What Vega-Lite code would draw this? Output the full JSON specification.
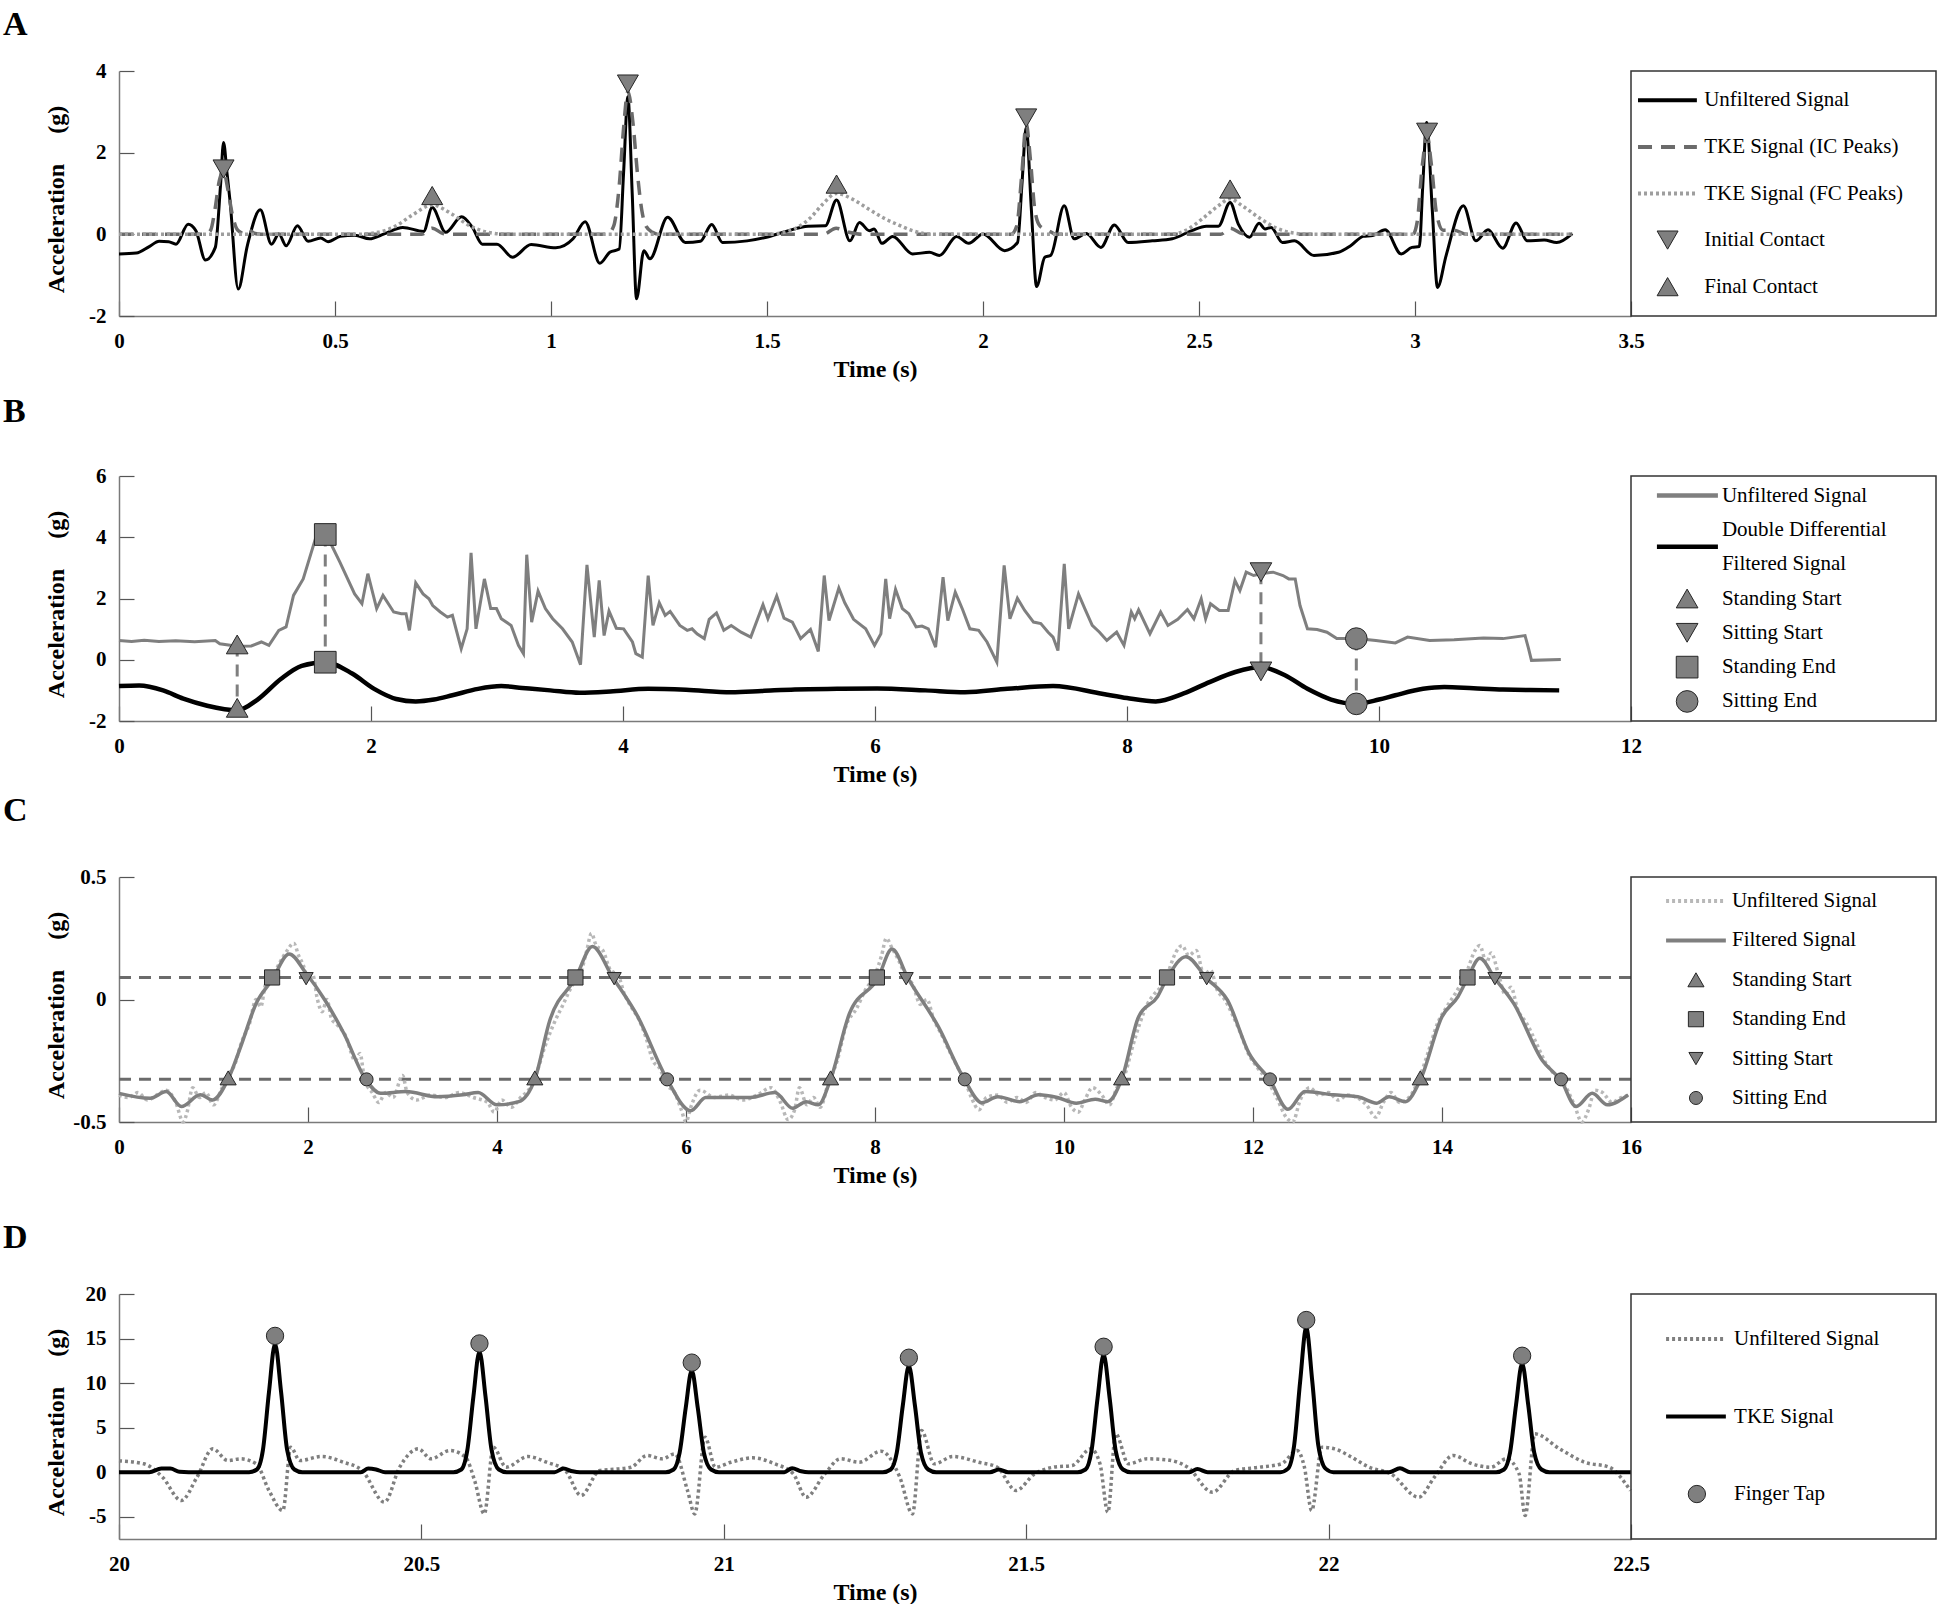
{
"$schema": "https://vega.github.io/schema/vega-lite/v6.json",
"padding": {"left": 3, "top": 8, "right": 0, "bottom": 0},
"background": "white",
"config": {
  "font": "Liberation Serif",
  "view": {"stroke": null},
  "axis": {"grid": false, "domainColor": "#7a7a7a", "domainWidth": 1.5, "tickColor": "#555555", "tickWidth": 1.2, "tickSize": -15, "labelFont": "Liberation Serif", "labelFontWeight": "bold", "labelFontSize": 21, "labelColor": "#000000", "titleFont": "Liberation Serif", "titleFontWeight": "bold", "titleFontSize": 24, "titleColor": "#000000", "labelFlush": false, "labelOverlap": false},
  "axisX": {"labelPadding": 29, "titlePadding": 6},
  "axisY": {"labelPadding": 28, "titleX": -56, "titleY": 128, "titleAlign": "center", "titleBaseline": "alphabetic", "titleAngle": 270},
  "title": {"font": "Liberation Serif", "fontWeight": "bold", "fontSize": 34, "color": "#000000", "anchor": "start", "frame": "group", "baseline": "bottom"}
},
"datasets": {
"A_unf": [{"t":0.0,"v":-0.48},{"t":0.04,"v":-0.46},{"t":0.07,"v":-0.3},{"t":0.093,"v":-0.17},{"t":0.115,"v":-0.18},{"t":0.132,"v":-0.24},{"t":0.16,"v":0.25},{"t":0.178,"v":0.09},{"t":0.2,"v":-0.63},{"t":0.223,"v":-0.32},{"t":0.235,"v":1.2},{"t":0.242,"v":2.25},{"t":0.25,"v":1.5},{"t":0.257,"v":0.82},{"t":0.276,"v":-1.34},{"t":0.297,"v":-0.28},{"t":0.327,"v":0.6},{"t":0.353,"v":-0.24},{"t":0.37,"v":0.01},{"t":0.387,"v":-0.28},{"t":0.413,"v":0.21},{"t":0.438,"v":-0.17},{"t":0.467,"v":-0.09},{"t":0.484,"v":-0.18},{"t":0.512,"v":-0.05},{"t":0.546,"v":-0.02},{"t":0.58,"v":-0.11},{"t":0.614,"v":0.01},{"t":0.657,"v":0.17},{"t":0.705,"v":0.07},{"t":0.725,"v":0.66},{"t":0.756,"v":0.05},{"t":0.793,"v":0.43},{"t":0.818,"v":0.17},{"t":0.841,"v":-0.24},{"t":0.875,"v":-0.24},{"t":0.911,"v":-0.56},{"t":0.954,"v":-0.25},{"t":1.011,"v":-0.33},{"t":1.051,"v":-0.11},{"t":1.079,"v":0.31},{"t":1.113,"v":-0.71},{"t":1.136,"v":-0.44},{"t":1.158,"v":-0.36},{"t":1.168,"v":1.5},{"t":1.178,"v":3.37},{"t":1.188,"v":1.0},{"t":1.198,"v":-1.58},{"t":1.215,"v":-0.4},{"t":1.229,"v":-0.6},{"t":1.27,"v":0.42},{"t":1.311,"v":-0.2},{"t":1.346,"v":-0.17},{"t":1.372,"v":0.24},{"t":1.397,"v":-0.2},{"t":1.454,"v":-0.16},{"t":1.499,"v":-0.07},{"t":1.544,"v":0.07},{"t":1.595,"v":0.2},{"t":1.635,"v":0.21},{"t":1.661,"v":0.84},{"t":1.692,"v":-0.16},{"t":1.714,"v":0.29},{"t":1.737,"v":0.09},{"t":1.748,"v":0.13},{"t":1.766,"v":-0.22},{"t":1.791,"v":-0.05},{"t":1.837,"v":-0.48},{"t":1.876,"v":-0.44},{"t":1.899,"v":-0.52},{"t":1.939,"v":-0.05},{"t":1.967,"v":-0.22},{"t":2.0,"v":0.01},{"t":2.05,"v":-0.4},{"t":2.08,"v":-0.2},{"t":2.09,"v":1.2},{"t":2.1,"v":2.62},{"t":2.112,"v":0.6},{"t":2.124,"v":-1.28},{"t":2.143,"v":-0.56},{"t":2.157,"v":-0.51},{"t":2.188,"v":0.7},{"t":2.211,"v":-0.11},{"t":2.239,"v":0.02},{"t":2.273,"v":-0.32},{"t":2.304,"v":0.23},{"t":2.336,"v":-0.2},{"t":2.392,"v":-0.16},{"t":2.438,"v":-0.11},{"t":2.483,"v":0.09},{"t":2.517,"v":0.2},{"t":2.545,"v":0.2},{"t":2.572,"v":0.78},{"t":2.591,"v":0.25},{"t":2.617,"v":-0.07},{"t":2.639,"v":0.27},{"t":2.653,"v":0.13},{"t":2.667,"v":0.17},{"t":2.693,"v":-0.2},{"t":2.721,"v":-0.16},{"t":2.766,"v":-0.52},{"t":2.823,"v":-0.44},{"t":2.851,"v":-0.28},{"t":2.88,"v":-0.05},{"t":2.902,"v":-0.03},{"t":2.931,"v":0.11},{"t":2.968,"v":-0.48},{"t":2.993,"v":-0.32},{"t":3.01,"v":-0.3},{"t":3.018,"v":1.2},{"t":3.027,"v":2.74},{"t":3.04,"v":0.6},{"t":3.052,"v":-1.3},{"t":3.072,"v":-0.52},{"t":3.112,"v":0.7},{"t":3.141,"v":-0.16},{"t":3.169,"v":0.11},{"t":3.203,"v":-0.34},{"t":3.234,"v":0.28},{"t":3.26,"v":-0.16},{"t":3.299,"v":-0.14},{"t":3.328,"v":-0.2},{"t":3.364,"v":0.02}],
"A_ic": [{"t":0,"v":0},{"t":0.2,"v":0},{"t":0.212,"v":0.1},{"t":0.222,"v":0.6},{"t":0.232,"v":1.3},{"t":0.242,"v":1.55},{"t":0.252,"v":1.1},{"t":0.262,"v":0.5},{"t":0.275,"v":0.1},{"t":0.29,"v":0.02},{"t":0.3,"v":0.1},{"t":0.315,"v":0.02},{"t":0.33,"v":0},{"t":0.7,"v":0},{"t":0.725,"v":0.15},{"t":0.75,"v":0.02},{"t":0.77,"v":0},{"t":1.13,"v":0},{"t":1.145,"v":0.2},{"t":1.158,"v":1.2},{"t":1.168,"v":2.6},{"t":1.178,"v":3.5},{"t":1.19,"v":2.7},{"t":1.2,"v":1.5},{"t":1.21,"v":0.6},{"t":1.22,"v":0.2},{"t":1.235,"v":0.05},{"t":1.25,"v":0},{"t":1.63,"v":0},{"t":1.66,"v":0.15},{"t":1.69,"v":0.05},{"t":1.72,"v":0},{"t":2.065,"v":0},{"t":2.078,"v":0.2},{"t":2.09,"v":1.5},{"t":2.1,"v":2.7},{"t":2.11,"v":1.8},{"t":2.12,"v":0.6},{"t":2.132,"v":0.2},{"t":2.15,"v":0.1},{"t":2.17,"v":0},{"t":2.55,"v":0},{"t":2.572,"v":0.15},{"t":2.6,"v":0.02},{"t":2.62,"v":0},{"t":2.995,"v":0},{"t":3.005,"v":0.3},{"t":3.017,"v":1.7},{"t":3.028,"v":2.4},{"t":3.038,"v":1.7},{"t":3.05,"v":0.5},{"t":3.065,"v":0.1},{"t":3.09,"v":0.1},{"t":3.12,"v":0},{"t":3.364,"v":0}],
"A_fc": [{"t":0,"v":0},{"t":0.55,"v":0},{"t":0.6,"v":0.05},{"t":0.64,"v":0.2},{"t":0.68,"v":0.48},{"t":0.725,"v":0.72},{"t":0.77,"v":0.5},{"t":0.81,"v":0.22},{"t":0.85,"v":0.06},{"t":0.9,"v":0},{"t":1.5,"v":0},{"t":1.55,"v":0.08},{"t":1.6,"v":0.4},{"t":1.63,"v":0.75},{"t":1.66,"v":1.0},{"t":1.7,"v":0.85},{"t":1.735,"v":0.62},{"t":1.77,"v":0.4},{"t":1.8,"v":0.25},{"t":1.84,"v":0.08},{"t":1.88,"v":0},{"t":2.43,"v":0},{"t":2.47,"v":0.1},{"t":2.51,"v":0.4},{"t":2.545,"v":0.7},{"t":2.572,"v":0.87},{"t":2.6,"v":0.7},{"t":2.64,"v":0.4},{"t":2.68,"v":0.15},{"t":2.72,"v":0.03},{"t":2.76,"v":0},{"t":3.364,"v":0}],
"A_mk": [{"t":0.242,"v":1.6,"e":"Initial Contact"},{"t":1.178,"v":3.68,"e":"Initial Contact"},{"t":2.1,"v":2.85,"e":"Initial Contact"},{"t":3.028,"v":2.5,"e":"Initial Contact"},{"t":0.725,"v":0.95,"e":"Final Contact"},{"t":1.661,"v":1.23,"e":"Final Contact"},{"t":2.572,"v":1.11,"e":"Final Contact"}],
"legA": [{"label":"Unfiltered Signal"},{"label":"TKE Signal (IC Peaks)"},{"label":"TKE Signal (FC Peaks)"},{"label":"Initial Contact"},{"label":"Final Contact"}],
"B_unf": [{"t":0.0,"v":0.63},{"t":0.1,"v":0.6},{"t":0.2,"v":0.64},{"t":0.317,"v":0.6},{"t":0.45,"v":0.62},{"t":0.6,"v":0.59},{"t":0.764,"v":0.63},{"t":0.8,"v":0.52},{"t":0.938,"v":0.44},{"t":1.05,"v":0.45},{"t":1.13,"v":0.58},{"t":1.19,"v":0.47},{"t":1.268,"v":0.96},{"t":1.326,"v":1.07},{"t":1.385,"v":2.1},{"t":1.462,"v":2.64},{"t":1.559,"v":3.95},{"t":1.598,"v":4.11},{"t":1.656,"v":4.0},{"t":1.753,"v":3.19},{"t":1.87,"v":2.15},{"t":1.928,"v":1.83},{"t":1.975,"v":2.81},{"t":2.045,"v":1.67},{"t":2.095,"v":2.1},{"t":2.18,"v":1.56},{"t":2.24,"v":1.5},{"t":2.278,"v":1.5},{"t":2.305,"v":0.96},{"t":2.355,"v":2.51},{"t":2.413,"v":2.15},{"t":2.46,"v":1.99},{"t":2.49,"v":1.77},{"t":2.55,"v":1.56},{"t":2.607,"v":1.39},{"t":2.646,"v":1.45},{"t":2.716,"v":0.36},{"t":2.763,"v":1.01},{"t":2.794,"v":3.49},{"t":2.833,"v":1.01},{"t":2.9,"v":2.64},{"t":2.95,"v":1.67},{"t":2.996,"v":1.67},{"t":3.034,"v":1.34},{"t":3.112,"v":1.12},{"t":3.17,"v":0.47},{"t":3.21,"v":0.2},{"t":3.236,"v":3.43},{"t":3.275,"v":1.23},{"t":3.326,"v":2.24},{"t":3.384,"v":1.67},{"t":3.442,"v":1.34},{"t":3.52,"v":1.01},{"t":3.597,"v":0.58},{"t":3.663,"v":-0.16},{"t":3.714,"v":3.1},{"t":3.772,"v":0.74},{"t":3.811,"v":2.59},{"t":3.85,"v":0.79},{"t":3.889,"v":1.59},{"t":3.947,"v":1.03},{"t":4.005,"v":1.01},{"t":4.075,"v":0.58},{"t":4.102,"v":0.2},{"t":4.153,"v":0.09},{"t":4.2,"v":2.75},{"t":4.238,"v":1.12},{"t":4.288,"v":1.86},{"t":4.335,"v":1.45},{"t":4.374,"v":1.58},{"t":4.451,"v":1.12},{"t":4.51,"v":0.96},{"t":4.548,"v":1.01},{"t":4.587,"v":0.85},{"t":4.645,"v":0.69},{"t":4.684,"v":1.32},{"t":4.742,"v":1.53},{"t":4.8,"v":0.96},{"t":4.859,"v":1.12},{"t":4.937,"v":0.9},{"t":5.014,"v":0.74},{"t":5.111,"v":1.8},{"t":5.15,"v":1.34},{"t":5.22,"v":2.08},{"t":5.278,"v":1.36},{"t":5.344,"v":1.23},{"t":5.41,"v":0.69},{"t":5.488,"v":0.99},{"t":5.55,"v":0.27},{"t":5.597,"v":2.75},{"t":5.635,"v":1.28},{"t":5.713,"v":2.34},{"t":5.76,"v":1.86},{"t":5.83,"v":1.32},{"t":5.926,"v":1.01},{"t":5.996,"v":0.47},{"t":6.047,"v":0.85},{"t":6.085,"v":2.64},{"t":6.116,"v":1.34},{"t":6.163,"v":2.3},{"t":6.217,"v":1.67},{"t":6.268,"v":1.5},{"t":6.326,"v":1.07},{"t":6.373,"v":1.1},{"t":6.423,"v":1.01},{"t":6.481,"v":0.41},{"t":6.54,"v":2.7},{"t":6.578,"v":1.28},{"t":6.637,"v":2.21},{"t":6.695,"v":1.64},{"t":6.753,"v":1.01},{"t":6.823,"v":0.96},{"t":6.889,"v":0.58},{"t":6.967,"v":-0.08},{"t":7.025,"v":3.08},{"t":7.071,"v":1.34},{"t":7.13,"v":2.01},{"t":7.188,"v":1.61},{"t":7.258,"v":1.23},{"t":7.316,"v":1.18},{"t":7.374,"v":0.9},{"t":7.413,"v":0.74},{"t":7.452,"v":0.3},{"t":7.502,"v":3.13},{"t":7.537,"v":1.01},{"t":7.615,"v":2.15},{"t":7.665,"v":1.67},{"t":7.724,"v":1.12},{"t":7.782,"v":0.9},{"t":7.84,"v":0.63},{"t":7.918,"v":0.9},{"t":7.976,"v":0.47},{"t":8.034,"v":1.56},{"t":8.061,"v":1.34},{"t":8.092,"v":1.63},{"t":8.182,"v":0.85},{"t":8.267,"v":1.56},{"t":8.325,"v":1.12},{"t":8.403,"v":1.32},{"t":8.48,"v":1.64},{"t":8.531,"v":1.34},{"t":8.589,"v":1.99},{"t":8.624,"v":1.34},{"t":8.663,"v":1.83},{"t":8.733,"v":1.61},{"t":8.803,"v":1.61},{"t":8.857,"v":2.59},{"t":8.896,"v":2.26},{"t":8.946,"v":2.86},{"t":9.005,"v":2.75},{"t":9.063,"v":2.81},{"t":9.16,"v":2.86},{"t":9.238,"v":2.75},{"t":9.284,"v":2.64},{"t":9.335,"v":2.64},{"t":9.373,"v":1.77},{"t":9.432,"v":1.01},{"t":9.509,"v":0.99},{"t":9.587,"v":0.9},{"t":9.665,"v":0.69},{"t":9.82,"v":0.69},{"t":9.975,"v":0.63},{"t":10.13,"v":0.55},{"t":10.227,"v":0.74},{"t":10.402,"v":0.63},{"t":10.596,"v":0.65},{"t":10.829,"v":0.71},{"t":10.984,"v":0.69},{"t":11.159,"v":0.79},{"t":11.186,"v":0.38},{"t":11.21,"v":-0.02},{"t":11.443,"v":0.01}],
"B_dd": [{"t":0,"v":-0.86},{"t":0.16,"v":-0.84},{"t":0.35,"v":-1.0},{"t":0.51,"v":-1.27},{"t":0.7,"v":-1.5},{"t":0.938,"v":-1.65},{"t":1.1,"v":-1.3},{"t":1.287,"v":-0.62},{"t":1.45,"v":-0.2},{"t":1.637,"v":-0.08},{"t":1.85,"v":-0.45},{"t":2.025,"v":-0.95},{"t":2.2,"v":-1.28},{"t":2.355,"v":-1.36},{"t":2.5,"v":-1.3},{"t":2.646,"v":-1.16},{"t":2.85,"v":-0.95},{"t":3.034,"v":-0.86},{"t":3.2,"v":-0.92},{"t":3.423,"v":-1.0},{"t":3.656,"v":-1.08},{"t":3.9,"v":-1.04},{"t":4.2,"v":-0.95},{"t":4.5,"v":-0.98},{"t":4.859,"v":-1.06},{"t":5.1,"v":-1.02},{"t":5.364,"v":-0.97},{"t":5.7,"v":-0.95},{"t":6.017,"v":-0.94},{"t":6.4,"v":-1.0},{"t":6.714,"v":-1.06},{"t":7.05,"v":-0.95},{"t":7.413,"v":-0.86},{"t":7.801,"v":-1.11},{"t":8.0,"v":-1.25},{"t":8.228,"v":-1.36},{"t":8.45,"v":-1.1},{"t":8.655,"v":-0.73},{"t":8.86,"v":-0.4},{"t":9.063,"v":-0.24},{"t":9.25,"v":-0.5},{"t":9.432,"v":-0.95},{"t":9.62,"v":-1.3},{"t":9.82,"v":-1.44},{"t":10.0,"v":-1.3},{"t":10.13,"v":-1.16},{"t":10.35,"v":-0.95},{"t":10.518,"v":-0.89},{"t":10.75,"v":-0.93},{"t":10.984,"v":-0.97},{"t":11.2,"v":-0.99},{"t":11.43,"v":-1.0}],
"B_conn": [{"t":0.938,"v":0.5,"v2":-1.57},{"t":1.637,"v":4.09,"v2":-0.08},{"t":9.063,"v":2.86,"v2":-0.38},{"t":9.82,"v":0.69,"v2":-1.44}],
"B_mk": [{"t":0.938,"v":0.5,"e":"Standing Start"},{"t":0.938,"v":-1.57,"e":"Standing Start"},{"t":1.637,"v":4.09,"e":"Standing End"},{"t":1.637,"v":-0.08,"e":"Standing End"},{"t":9.063,"v":2.86,"e":"Sitting Start"},{"t":9.063,"v":-0.38,"e":"Sitting Start"},{"t":9.82,"v":0.69,"e":"Sitting End"},{"t":9.82,"v":-1.44,"e":"Sitting End"}],
"legB": [{"label":"Unfiltered Signal"},{"label":"Double Differential"},{"label":"Filtered Signal"},{"label":"Standing Start"},{"label":"Sitting Start"},{"label":"Standing End"},{"label":"Sitting End"}],
"C_unf": [{"t":0,"v":-0.39},{"t":0.1,"v":-0.4},{"t":0.2,"v":-0.38},{"t":0.3,"v":-0.41},{"t":0.4,"v":-0.39},{"t":0.5,"v":-0.37},{"t":0.6,"v":-0.42},{"t":0.68,"v":-0.5},{"t":0.72,"v":-0.46},{"t":0.78,"v":-0.36},{"t":0.85,"v":-0.4},{"t":0.92,"v":-0.38},{"t":1.0,"v":-0.43},{"t":1.08,"v":-0.37},{"t":1.15,"v":-0.31},{"t":1.22,"v":-0.27},{"t":1.3,"v":-0.17},{"t":1.38,"v":-0.1},{"t":1.45,"v":0.0},{"t":1.5,"v":-0.03},{"t":1.55,"v":0.06},{"t":1.62,"v":0.09},{"t":1.7,"v":0.15},{"t":1.78,"v":0.2},{"t":1.85,"v":0.23},{"t":1.9,"v":0.18},{"t":1.95,"v":0.14},{"t":2.0,"v":0.08},{"t":2.05,"v":0.1},{"t":2.1,"v":0.0},{"t":2.15,"v":-0.05},{"t":2.2,"v":0.0},{"t":2.25,"v":-0.08},{"t":2.3,"v":-0.1},{"t":2.4,"v":-0.15},{"t":2.5,"v":-0.25},{"t":2.55,"v":-0.22},{"t":2.6,"v":-0.33},{"t":2.68,"v":-0.38},{"t":2.75,"v":-0.42},{"t":2.82,"v":-0.38},{"t":2.9,"v":-0.4},{"t":3.0,"v":-0.31},{"t":3.05,"v":-0.38},{"t":3.15,"v":-0.41},{"t":3.3,"v":-0.39},{"t":3.45,"v":-0.4},{"t":3.6,"v":-0.38},{"t":3.75,"v":-0.4},{"t":3.9,"v":-0.42},{"t":3.97,"v":-0.46},{"t":4.05,"v":-0.41},{"t":4.15,"v":-0.44},{"t":4.25,"v":-0.4},{"t":4.35,"v":-0.36},{"t":4.42,"v":-0.3},{"t":4.5,"v":-0.2},{"t":4.6,"v":-0.1},{"t":4.7,"v":-0.02},{"t":4.8,"v":0.06},{"t":4.88,"v":0.1},{"t":4.95,"v":0.2},{"t":5.0,"v":0.27},{"t":5.05,"v":0.22},{"t":5.12,"v":0.2},{"t":5.2,"v":0.12},{"t":5.28,"v":0.1},{"t":5.35,"v":0.02},{"t":5.42,"v":-0.03},{"t":5.5,"v":-0.08},{"t":5.58,"v":-0.16},{"t":5.65,"v":-0.25},{"t":5.72,"v":-0.28},{"t":5.8,"v":-0.35},{"t":5.88,"v":-0.38},{"t":5.95,"v":-0.45},{"t":6.0,"v":-0.5},{"t":6.05,"v":-0.44},{"t":6.15,"v":-0.37},{"t":6.3,"v":-0.4},{"t":6.45,"v":-0.39},{"t":6.6,"v":-0.41},{"t":6.75,"v":-0.39},{"t":6.9,"v":-0.36},{"t":7.0,"v":-0.42},{"t":7.08,"v":-0.49},{"t":7.15,"v":-0.45},{"t":7.2,"v":-0.36},{"t":7.28,"v":-0.43},{"t":7.35,"v":-0.4},{"t":7.42,"v":-0.44},{"t":7.5,"v":-0.35},{"t":7.6,"v":-0.25},{"t":7.7,"v":-0.1},{"t":7.8,"v":-0.04},{"t":7.9,"v":0.04},{"t":8.0,"v":0.1},{"t":8.07,"v":0.18},{"t":8.12,"v":0.25},{"t":8.18,"v":0.21},{"t":8.25,"v":0.16},{"t":8.32,"v":0.1},{"t":8.4,"v":0.06},{"t":8.48,"v":-0.02},{"t":8.55,"v":0.0},{"t":8.62,"v":-0.08},{"t":8.7,"v":-0.14},{"t":8.8,"v":-0.22},{"t":8.88,"v":-0.28},{"t":8.95,"v":-0.33},{"t":9.02,"v":-0.4},{"t":9.1,"v":-0.45},{"t":9.18,"v":-0.4},{"t":9.3,"v":-0.39},{"t":9.4,"v":-0.42},{"t":9.5,"v":-0.4},{"t":9.6,"v":-0.42},{"t":9.7,"v":-0.38},{"t":9.8,"v":-0.4},{"t":9.9,"v":-0.41},{"t":10.0,"v":-0.38},{"t":10.08,"v":-0.44},{"t":10.15,"v":-0.46},{"t":10.22,"v":-0.41},{"t":10.3,"v":-0.36},{"t":10.4,"v":-0.39},{"t":10.48,"v":-0.43},{"t":10.56,"v":-0.36},{"t":10.65,"v":-0.3},{"t":10.72,"v":-0.2},{"t":10.8,"v":-0.1},{"t":10.88,"v":-0.02},{"t":10.95,"v":0.02},{"t":11.02,"v":0.05},{"t":11.1,"v":0.11},{"t":11.18,"v":0.19},{"t":11.25,"v":0.22},{"t":11.32,"v":0.18},{"t":11.4,"v":0.2},{"t":11.48,"v":0.1},{"t":11.55,"v":0.12},{"t":11.62,"v":0.04},{"t":11.7,"v":0.0},{"t":11.78,"v":-0.06},{"t":11.86,"v":-0.13},{"t":11.95,"v":-0.22},{"t":12.05,"v":-0.28},{"t":12.15,"v":-0.33},{"t":12.25,"v":-0.4},{"t":12.35,"v":-0.48},{"t":12.42,"v":-0.5},{"t":12.5,"v":-0.41},{"t":12.6,"v":-0.36},{"t":12.7,"v":-0.39},{"t":12.8,"v":-0.38},{"t":12.9,"v":-0.41},{"t":13.0,"v":-0.39},{"t":13.1,"v":-0.4},{"t":13.2,"v":-0.43},{"t":13.3,"v":-0.48},{"t":13.38,"v":-0.42},{"t":13.46,"v":-0.38},{"t":13.55,"v":-0.42},{"t":13.65,"v":-0.4},{"t":13.75,"v":-0.33},{"t":13.85,"v":-0.22},{"t":13.95,"v":-0.1},{"t":14.05,"v":-0.03},{"t":14.15,"v":0.03},{"t":14.25,"v":0.1},{"t":14.35,"v":0.2},{"t":14.4,"v":0.22},{"t":14.47,"v":0.15},{"t":14.52,"v":0.19},{"t":14.6,"v":0.1},{"t":14.67,"v":0.02},{"t":14.73,"v":0.05},{"t":14.8,"v":-0.04},{"t":14.9,"v":-0.1},{"t":15.0,"v":-0.18},{"t":15.1,"v":-0.26},{"t":15.2,"v":-0.31},{"t":15.3,"v":-0.35},{"t":15.4,"v":-0.43},{"t":15.48,"v":-0.5},{"t":15.55,"v":-0.45},{"t":15.62,"v":-0.37},{"t":15.7,"v":-0.38},{"t":15.8,"v":-0.42},{"t":15.9,"v":-0.4},{"t":16.0,"v":-0.39}],
"C_filt": [{"t":0,"v":-0.383},{"t":0.33,"v":-0.403},{"t":0.5,"v":-0.376},{"t":0.66,"v":-0.437},{"t":0.86,"v":-0.389},{"t":0.99,"v":-0.41},{"t":1.155,"v":-0.325},{"t":1.29,"v":-0.19},{"t":1.45,"v":-0.017},{"t":1.62,"v":0.08},{"t":1.8,"v":0.186},{"t":1.98,"v":0.107},{"t":2.18,"v":-0.003},{"t":2.38,"v":-0.139},{"t":2.61,"v":-0.326},{"t":2.77,"v":-0.383},{"t":3.04,"v":-0.376},{"t":3.37,"v":-0.397},{"t":3.64,"v":-0.389},{"t":3.8,"v":-0.38},{"t":4.0,"v":-0.43},{"t":4.23,"v":-0.417},{"t":4.4,"v":-0.326},{"t":4.56,"v":-0.084},{"t":4.83,"v":0.086},{"t":5.01,"v":0.216},{"t":5.22,"v":0.093},{"t":5.49,"v":-0.07},{"t":5.8,"v":-0.326},{"t":6.05,"v":-0.454},{"t":6.21,"v":-0.4},{"t":6.68,"v":-0.4},{"t":6.94,"v":-0.38},{"t":7.13,"v":-0.444},{"t":7.27,"v":-0.417},{"t":7.4,"v":-0.43},{"t":7.53,"v":-0.326},{"t":7.73,"v":-0.057},{"t":8.03,"v":0.086},{"t":8.18,"v":0.206},{"t":8.35,"v":0.086},{"t":8.67,"v":-0.111},{"t":8.95,"v":-0.329},{"t":9.13,"v":-0.421},{"t":9.3,"v":-0.397},{"t":9.53,"v":-0.417},{"t":9.73,"v":-0.389},{"t":9.93,"v":-0.4},{"t":10.13,"v":-0.423},{"t":10.33,"v":-0.407},{"t":10.46,"v":-0.417},{"t":10.61,"v":-0.326},{"t":10.79,"v":-0.07},{"t":10.99,"v":0.012},{"t":11.09,"v":0.086},{"t":11.29,"v":0.175},{"t":11.51,"v":0.086},{"t":11.73,"v":-0.003},{"t":11.96,"v":-0.221},{"t":12.18,"v":-0.329},{"t":12.37,"v":-0.448},{"t":12.55,"v":-0.376},{"t":12.85,"v":-0.389},{"t":13.11,"v":-0.397},{"t":13.31,"v":-0.423},{"t":13.44,"v":-0.397},{"t":13.61,"v":-0.417},{"t":13.77,"v":-0.329},{"t":14.0,"v":-0.07},{"t":14.17,"v":0.012},{"t":14.27,"v":0.086},{"t":14.4,"v":0.168},{"t":14.56,"v":0.086},{"t":14.76,"v":-0.017},{"t":15.06,"v":-0.248},{"t":15.26,"v":-0.331},{"t":15.42,"v":-0.437},{"t":15.59,"v":-0.383},{"t":15.75,"v":-0.43},{"t":15.97,"v":-0.389}],
"C_thr": [{"v":0.09},{"v":-0.326}],
"C_mk": [{"t":1.155,"v":-0.32,"e":"Standing Start"},{"t":4.4,"v":-0.32,"e":"Standing Start"},{"t":7.53,"v":-0.32,"e":"Standing Start"},{"t":10.61,"v":-0.32,"e":"Standing Start"},{"t":13.77,"v":-0.32,"e":"Standing Start"},{"t":1.62,"v":0.09,"e":"Standing End"},{"t":4.83,"v":0.09,"e":"Standing End"},{"t":8.02,"v":0.09,"e":"Standing End"},{"t":11.09,"v":0.09,"e":"Standing End"},{"t":14.27,"v":0.09,"e":"Standing End"},{"t":1.98,"v":0.085,"e":"Sitting Start"},{"t":5.24,"v":0.085,"e":"Sitting Start"},{"t":8.33,"v":0.085,"e":"Sitting Start"},{"t":11.51,"v":0.085,"e":"Sitting Start"},{"t":14.56,"v":0.085,"e":"Sitting Start"},{"t":2.62,"v":-0.326,"e":"Sitting End"},{"t":5.8,"v":-0.326,"e":"Sitting End"},{"t":8.95,"v":-0.326,"e":"Sitting End"},{"t":12.18,"v":-0.326,"e":"Sitting End"},{"t":15.26,"v":-0.326,"e":"Sitting End"}],
"legC": [{"label":"Unfiltered Signal"},{"label":"Filtered Signal"},{"label":"Standing Start"},{"label":"Standing End"},{"label":"Sitting Start"},{"label":"Sitting End"}],
"D_unf": [{"t":20.0,"v":1.27},{"t":20.041,"v":0.94},{"t":20.072,"v":-0.56},{"t":20.103,"v":-3.18},{"t":20.129,"v":-0.56},{"t":20.155,"v":2.62},{"t":20.18,"v":1.31},{"t":20.201,"v":1.5},{"t":20.227,"v":0.94},{"t":20.248,"v":-2.06},{"t":20.271,"v":-4.3},{"t":20.284,"v":2.8},{"t":20.299,"v":1.31},{"t":20.335,"v":1.76},{"t":20.371,"v":1.12},{"t":20.402,"v":0.19},{"t":20.439,"v":-3.37},{"t":20.464,"v":0.56},{"t":20.495,"v":2.62},{"t":20.516,"v":1.5},{"t":20.547,"v":2.43},{"t":20.573,"v":1.68},{"t":20.588,"v":-0.94},{"t":20.604,"v":-4.68},{"t":20.619,"v":2.8},{"t":20.64,"v":0.56},{"t":20.676,"v":1.76},{"t":20.707,"v":1.12},{"t":20.738,"v":0.19},{"t":20.764,"v":-2.62},{"t":20.795,"v":0.19},{"t":20.826,"v":0.37},{"t":20.847,"v":0.56},{"t":20.873,"v":1.87},{"t":20.898,"v":1.5},{"t":20.919,"v":2.06},{"t":20.94,"v":-2.06},{"t":20.952,"v":-4.68},{"t":20.969,"v":3.93},{"t":20.986,"v":0.56},{"t":21.012,"v":1.12},{"t":21.048,"v":1.61},{"t":21.084,"v":0.94},{"t":21.115,"v":-0.19},{"t":21.136,"v":-2.81},{"t":21.167,"v":-0.19},{"t":21.193,"v":1.5},{"t":21.224,"v":1.12},{"t":21.26,"v":2.36},{"t":21.291,"v":-0.56},{"t":21.312,"v":-4.68},{"t":21.327,"v":4.68},{"t":21.348,"v":0.94},{"t":21.379,"v":1.76},{"t":21.39,"v":1.68},{"t":21.421,"v":1.12},{"t":21.452,"v":0.56},{"t":21.483,"v":-2.06},{"t":21.514,"v":-0.19},{"t":21.545,"v":0.56},{"t":21.576,"v":0.75},{"t":21.607,"v":2.62},{"t":21.622,"v":0.94},{"t":21.635,"v":-4.5},{"t":21.648,"v":4.3},{"t":21.669,"v":0.94},{"t":21.7,"v":1.5},{"t":21.731,"v":1.4},{"t":21.767,"v":0.56},{"t":21.808,"v":-2.25},{"t":21.845,"v":0.19},{"t":21.886,"v":0.56},{"t":21.922,"v":0.94},{"t":21.948,"v":2.43},{"t":21.96,"v":0.56},{"t":21.972,"v":-4.3},{"t":21.989,"v":2.8},{"t":22.01,"v":2.62},{"t":22.036,"v":1.76},{"t":22.067,"v":0.56},{"t":22.103,"v":-0.19},{"t":22.149,"v":-2.81},{"t":22.175,"v":-0.56},{"t":22.206,"v":1.87},{"t":22.237,"v":0.94},{"t":22.268,"v":0.56},{"t":22.294,"v":1.5},{"t":22.315,"v":-0.19},{"t":22.325,"v":-4.87},{"t":22.341,"v":4.3},{"t":22.382,"v":2.62},{"t":22.423,"v":1.12},{"t":22.464,"v":0.56},{"t":22.499,"v":-2.06}],
"D_tke": [{"t":20.0,"v":0},{"t":20.05,"v":0},{"t":20.07,"v":0.4},{"t":20.085,"v":0.4},{"t":20.1,"v":0.05},{"t":20.115,"v":0},{"t":20.215,"v":0},{"t":20.228,"v":0.3},{"t":20.238,"v":2.5},{"t":20.248,"v":9},{"t":20.258,"v":14.4},{"t":20.268,"v":9},{"t":20.278,"v":2.5},{"t":20.29,"v":0.3},{"t":20.303,"v":0},{"t":20.4,"v":0},{"t":20.412,"v":0.4},{"t":20.425,"v":0.3},{"t":20.44,"v":0},{"t":20.553,"v":0},{"t":20.566,"v":0.3},{"t":20.576,"v":2.5},{"t":20.586,"v":8.5},{"t":20.596,"v":13.55},{"t":20.606,"v":8.5},{"t":20.616,"v":2.5},{"t":20.628,"v":0.3},{"t":20.641,"v":0},{"t":20.72,"v":0},{"t":20.735,"v":0.4},{"t":20.75,"v":0.1},{"t":20.762,"v":0},{"t":20.904,"v":0},{"t":20.917,"v":0.3},{"t":20.927,"v":2.2},{"t":20.937,"v":7.2},{"t":20.947,"v":11.4},{"t":20.957,"v":7.2},{"t":20.967,"v":2.2},{"t":20.979,"v":0.3},{"t":20.992,"v":0},{"t":21.1,"v":0},{"t":21.113,"v":0.45},{"t":21.128,"v":0.1},{"t":21.14,"v":0},{"t":21.263,"v":0},{"t":21.276,"v":0.3},{"t":21.286,"v":2.2},{"t":21.296,"v":7.5},{"t":21.306,"v":11.95},{"t":21.316,"v":7.5},{"t":21.326,"v":2.2},{"t":21.338,"v":0.3},{"t":21.351,"v":0},{"t":21.44,"v":0},{"t":21.455,"v":0.3},{"t":21.47,"v":0},{"t":21.585,"v":0},{"t":21.598,"v":0.3},{"t":21.608,"v":2.4},{"t":21.618,"v":8.3},{"t":21.628,"v":13.2},{"t":21.638,"v":8.3},{"t":21.648,"v":2.4},{"t":21.66,"v":0.3},{"t":21.673,"v":0},{"t":21.77,"v":0},{"t":21.783,"v":0.35},{"t":21.8,"v":0},{"t":21.92,"v":0},{"t":21.933,"v":0.4},{"t":21.943,"v":3},{"t":21.953,"v":10.2},{"t":21.963,"v":16.2},{"t":21.973,"v":10.2},{"t":21.983,"v":3},{"t":21.995,"v":0.4},{"t":22.008,"v":0},{"t":22.1,"v":0},{"t":22.118,"v":0.45},{"t":22.135,"v":0},{"t":22.277,"v":0},{"t":22.29,"v":0.3},{"t":22.3,"v":2.2},{"t":22.31,"v":7.6},{"t":22.32,"v":12.2},{"t":22.33,"v":7.6},{"t":22.34,"v":2.2},{"t":22.352,"v":0.3},{"t":22.365,"v":0},{"t":22.5,"v":0}],
"D_mk": [{"t":20.258,"v":15.3},{"t":20.596,"v":14.45},{"t":20.947,"v":12.3},{"t":21.306,"v":12.85},{"t":21.628,"v":14.08},{"t":21.963,"v":17.08},{"t":22.32,"v":13.07}],
"legD": [{"label":"Unfiltered Signal"},{"label":"TKE Signal"},{"label":"Finger Tap"}]
},
"spacing": 34,
"resolve": {"scale": {"color": "independent", "shape": "independent", "size": "independent", "strokeDash": "independent"}},
"vconcat": [
{
"spacing": 8,
"resolve": {"scale": {"color": "independent", "shape": "independent", "size": "independent", "strokeDash": "independent"}},
"vconcat": [
{
"spacing": 14,
"resolve": {"scale": {"color": "independent", "shape": "independent", "size": "independent", "strokeDash": "independent"}},
"vconcat": [
{
 "title": {"text": "A", "dx": -116, "offset": 18},
 "bounds": "flush", "spacing": 0,
 "resolve": {"scale": {"color": "independent", "shape": "independent", "size": "independent", "strokeDash": "independent"}},
 "hconcat": [
  {"width": 1512, "height": 245,
   "layer": [
    {"data": {"name": "A_unf"}, "mark": {"type": "line", "color": "#000000", "strokeWidth": 3, "interpolate": "monotone"},
     "encoding": {
      "x": {"field": "t", "type": "quantitative", "scale": {"domain": [0, 3.5], "nice": false, "zero": false}, "axis": {"values": [0,0.5,1,1.5,2,2.5,3,3.5], "title": "Time (s)", "labelExpr": "'' + datum.value"}},
      "y": {"field": "v", "type": "quantitative", "scale": {"domain": [-2, 4], "nice": false}, "axis": {"values": [-2,0,2,4], "title": "Acceleration\u00a0\u00a0\u00a0\u00a0\u00a0(g)", "labelExpr": "'' + datum.value"}}}},
    {"data": {"name": "A_ic"}, "mark": {"type": "line", "color": "#6b6b6b", "strokeWidth": 3.5, "strokeDash": [14, 9], "interpolate": "monotone"},
     "encoding": {"x": {"field": "t", "type": "quantitative"}, "y": {"field": "v", "type": "quantitative"}}},
    {"data": {"name": "A_fc"}, "mark": {"type": "line", "color": "#9e9e9e", "strokeWidth": 3.5, "strokeDash": [3, 3], "interpolate": "monotone"},
     "encoding": {"x": {"field": "t", "type": "quantitative"}, "y": {"field": "v", "type": "quantitative"}}},
    {"data": {"name": "A_mk"}, "mark": {"type": "point", "filled": true, "fill": "#7f7f7f", "stroke": "#262626", "strokeWidth": 1, "opacity": 1, "size": 440},
     "encoding": {"x": {"field": "t", "type": "quantitative"}, "y": {"field": "v", "type": "quantitative"},
      "shape": {"field": "e", "type": "nominal", "scale": {"domain": ["Initial Contact", "Final Contact"], "range": ["triangle-down", "triangle-up"]}, "legend": null}}}
   ]},
  {"width": 305, "height": 245, "view": {"stroke": "#333333", "strokeWidth": 1.5},
   "data": {"name": "legA"},
   "layer": [
    {"transform": [{"filter": {"field": "label", "oneOf": ["Unfiltered Signal", "TKE Signal (IC Peaks)", "TKE Signal (FC Peaks)"]}}],
     "mark": {"type": "rule", "strokeWidth": 4},
     "encoding": {
      "y": {"field": "label", "type": "nominal", "scale": {"type": "point", "domain": ["Unfiltered Signal", "TKE Signal (IC Peaks)", "TKE Signal (FC Peaks)", "Initial Contact", "Final Contact"], "padding": 0.63}, "axis": null},
      "x": {"datum": 0.023, "type": "quantitative", "scale": {"domain": [0, 1]}, "axis": null}, "x2": {"datum": 0.216},
      "color": {"field": "label", "type": "nominal", "scale": {"domain": ["Unfiltered Signal", "TKE Signal (IC Peaks)", "TKE Signal (FC Peaks)"], "range": ["#000000", "#6b6b6b", "#9e9e9e"]}, "legend": null},
      "strokeDash": {"field": "label", "type": "nominal", "scale": {"domain": ["Unfiltered Signal", "TKE Signal (IC Peaks)", "TKE Signal (FC Peaks)"], "range": [[1, 0], [14, 9], [3, 3]]}, "legend": null}}},
    {"transform": [{"filter": {"field": "label", "oneOf": ["Initial Contact", "Final Contact"]}}],
     "mark": {"type": "point", "filled": true, "fill": "#7f7f7f", "stroke": "#262626", "strokeWidth": 1, "opacity": 1, "size": 440},
     "encoding": {"y": {"field": "label", "type": "nominal"}, "x": {"datum": 0.12, "type": "quantitative"},
      "shape": {"field": "label", "type": "nominal", "scale": {"domain": ["Initial Contact", "Final Contact"], "range": ["triangle-down", "triangle-up"]}, "legend": null}}},
    {"mark": {"type": "text", "align": "left", "baseline": "middle", "font": "Liberation Serif", "fontSize": 21, "color": "#000000"},
     "encoding": {"y": {"field": "label", "type": "nominal"}, "x": {"datum": 0.24, "type": "quantitative"}, "text": {"field": "label"}}}
   ]}
 ]
},
{
 "title": {"text": "B", "dx": -116, "offset": 36},
 "bounds": "flush", "spacing": 0,
 "resolve": {"scale": {"color": "independent", "shape": "independent", "size": "independent", "strokeDash": "independent"}},
 "hconcat": [
  {"width": 1512, "height": 245,
   "layer": [
    {"data": {"name": "B_unf"}, "mark": {"type": "line", "color": "#7f7f7f", "strokeWidth": 3},
     "encoding": {
      "x": {"field": "t", "type": "quantitative", "scale": {"domain": [0, 12], "nice": false, "zero": false}, "axis": {"values": [0,2,4,6,8,10,12], "title": "Time (s)", "labelExpr": "'' + datum.value"}},
      "y": {"field": "v", "type": "quantitative", "scale": {"domain": [-2, 6], "nice": false}, "axis": {"values": [-2,0,2,4,6], "title": "Acceleration\u00a0\u00a0\u00a0\u00a0\u00a0(g)", "labelExpr": "'' + datum.value"}}}},
    {"data": {"name": "B_dd"}, "mark": {"type": "line", "color": "#000000", "strokeWidth": 4.5, "interpolate": "monotone"},
     "encoding": {"x": {"field": "t", "type": "quantitative"}, "y": {"field": "v", "type": "quantitative"}}},
    {"data": {"name": "B_conn"}, "mark": {"type": "rule", "color": "#7f7f7f", "strokeWidth": 3, "strokeDash": [12, 8]},
     "encoding": {"x": {"field": "t", "type": "quantitative"}, "y": {"field": "v", "type": "quantitative"}, "y2": {"field": "v2"}}},
    {"data": {"name": "B_mk"}, "mark": {"type": "point", "filled": true, "fill": "#7f7f7f", "stroke": "#262626", "strokeWidth": 1, "opacity": 1},
     "encoding": {"x": {"field": "t", "type": "quantitative"}, "y": {"field": "v", "type": "quantitative"},
      "shape": {"field": "e", "type": "nominal", "scale": {"domain": ["Standing Start", "Sitting Start", "Standing End", "Sitting End"], "range": ["triangle-up", "triangle-down", "square", "circle"]}, "legend": null},
      "size": {"field": "e", "type": "nominal", "scale": {"domain": ["Standing Start", "Sitting Start", "Standing End", "Sitting End"], "range": [470, 470, 225, 360]}, "legend": null}}}
   ]},
  {"width": 305, "height": 245, "view": {"stroke": "#333333", "strokeWidth": 1.5},
   "data": {"name": "legB"},
   "layer": [
    {"transform": [{"filter": {"field": "label", "equal": "Unfiltered Signal"}}],
     "mark": {"type": "rule", "strokeWidth": 4.5, "color": "#7f7f7f"},
     "encoding": {
      "y": {"field": "label", "type": "nominal", "scale": {"type": "point", "domain": ["Unfiltered Signal", "Double Differential", "Filtered Signal", "Standing Start", "Sitting Start", "Standing End", "Sitting End"], "padding": 0.57}, "axis": null},
      "x": {"datum": 0.085, "type": "quantitative", "scale": {"domain": [0, 1]}, "axis": null}, "x2": {"datum": 0.285}}},
    {"transform": [{"filter": {"field": "label", "equal": "Double Differential"}}],
     "mark": {"type": "rule", "strokeWidth": 4.5, "color": "#000000", "yOffset": 17},
     "encoding": {"y": {"field": "label", "type": "nominal"}, "x": {"datum": 0.085, "type": "quantitative"}, "x2": {"datum": 0.285}}},
    {"transform": [{"filter": {"field": "label", "oneOf": ["Standing Start", "Sitting Start", "Standing End", "Sitting End"]}}],
     "mark": {"type": "point", "filled": true, "fill": "#7f7f7f", "stroke": "#262626", "strokeWidth": 1, "opacity": 1},
     "encoding": {"y": {"field": "label", "type": "nominal"}, "x": {"datum": 0.184, "type": "quantitative"},
      "shape": {"field": "label", "type": "nominal", "scale": {"domain": ["Standing Start", "Sitting Start", "Standing End", "Sitting End"], "range": ["triangle-up", "triangle-down", "square", "circle"]}, "legend": null},
      "size": {"field": "label", "type": "nominal", "scale": {"domain": ["Standing Start", "Sitting Start", "Standing End", "Sitting End"], "range": [470, 470, 225, 360]}, "legend": null}}},
    {"mark": {"type": "text", "align": "left", "baseline": "middle", "font": "Liberation Serif", "fontSize": 21, "color": "#000000"},
     "encoding": {"y": {"field": "label", "type": "nominal"}, "x": {"datum": 0.298, "type": "quantitative"}, "text": {"field": "label"}}}
   ]}
 ]
}
]
},
{
 "title": {"text": "C", "dx": -116, "offset": 38},
 "bounds": "flush", "spacing": 0,
 "resolve": {"scale": {"color": "independent", "shape": "independent", "size": "independent", "strokeDash": "independent"}},
 "hconcat": [
  {"width": 1512, "height": 245,
   "layer": [
    {"data": {"name": "C_thr"}, "mark": {"type": "rule", "color": "#6b6b6b", "strokeWidth": 3, "strokeDash": [12, 8]},
     "encoding": {"y": {"field": "v", "type": "quantitative", "scale": {"domain": [-0.5, 0.5], "nice": false}, "axis": {"values": [-0.5, 0, 0.5], "title": "Acceleration\u00a0\u00a0\u00a0\u00a0\u00a0(g)", "labelExpr": "'' + datum.value"}}}},
    {"data": {"name": "C_unf"}, "mark": {"type": "line", "color": "#b8b8b8", "strokeWidth": 3.5, "strokeDash": [3, 3], "interpolate": "monotone"},
     "encoding": {
      "x": {"field": "t", "type": "quantitative", "scale": {"domain": [0, 16], "nice": false, "zero": false}, "axis": {"values": [0,2,4,6,8,10,12,14,16], "title": "Time (s)", "labelExpr": "'' + datum.value"}},
      "y": {"field": "v", "type": "quantitative"}}},
    {"data": {"name": "C_filt"}, "mark": {"type": "line", "color": "#7f7f7f", "strokeWidth": 3.5, "interpolate": "monotone"},
     "encoding": {"x": {"field": "t", "type": "quantitative"}, "y": {"field": "v", "type": "quantitative"}}},
    {"data": {"name": "C_mk"}, "mark": {"type": "point", "filled": true, "fill": "#7f7f7f", "stroke": "#262626", "strokeWidth": 1, "opacity": 1},
     "encoding": {"x": {"field": "t", "type": "quantitative"}, "y": {"field": "v", "type": "quantitative"},
      "shape": {"field": "e", "type": "nominal", "scale": {"domain": ["Standing Start", "Standing End", "Sitting Start", "Sitting End"], "range": ["triangle-up", "square", "triangle-down", "circle"]}, "legend": null},
      "size": {"field": "e", "type": "nominal", "scale": {"domain": ["Standing Start", "Standing End", "Sitting Start", "Sitting End"], "range": [260, 170, 260, 250]}, "legend": null}}}
   ]},
  {"width": 305, "height": 245, "view": {"stroke": "#333333", "strokeWidth": 1.5},
   "data": {"name": "legC"},
   "layer": [
    {"transform": [{"filter": {"field": "label", "oneOf": ["Unfiltered Signal", "Filtered Signal"]}}],
     "mark": {"type": "rule", "strokeWidth": 4},
     "encoding": {
      "y": {"field": "label", "type": "nominal", "scale": {"type": "point", "domain": ["Unfiltered Signal", "Filtered Signal", "Standing Start", "Standing End", "Sitting Start", "Sitting End"], "padding": 0.61}, "axis": null},
      "x": {"datum": 0.115, "type": "quantitative", "scale": {"domain": [0, 1]}, "axis": null}, "x2": {"datum": 0.311},
      "color": {"field": "label", "type": "nominal", "scale": {"domain": ["Unfiltered Signal", "Filtered Signal"], "range": ["#b8b8b8", "#7f7f7f"]}, "legend": null},
      "strokeDash": {"field": "label", "type": "nominal", "scale": {"domain": ["Unfiltered Signal", "Filtered Signal"], "range": [[3, 3], [1, 0]]}, "legend": null}}},
    {"transform": [{"filter": {"field": "label", "oneOf": ["Standing Start", "Standing End", "Sitting Start", "Sitting End"]}}],
     "mark": {"type": "point", "filled": true, "fill": "#7f7f7f", "stroke": "#262626", "strokeWidth": 1, "opacity": 1},
     "encoding": {"y": {"field": "label", "type": "nominal"}, "x": {"datum": 0.213, "type": "quantitative"},
      "shape": {"field": "label", "type": "nominal", "scale": {"domain": ["Standing Start", "Standing End", "Sitting Start", "Sitting End"], "range": ["triangle-up", "square", "triangle-down", "circle"]}, "legend": null},
      "size": {"field": "label", "type": "nominal", "scale": {"domain": ["Standing Start", "Standing End", "Sitting Start", "Sitting End"], "range": [260, 170, 260, 250]}, "legend": null}}},
    {"mark": {"type": "text", "align": "left", "baseline": "middle", "font": "Liberation Serif", "fontSize": 21, "color": "#000000"},
     "encoding": {"y": {"field": "label", "type": "nominal"}, "x": {"datum": 0.331, "type": "quantitative"}, "text": {"field": "label"}}}
   ]}
 ]
}
]
},
{
 "title": {"text": "D", "dx": -116, "offset": 28},
 "bounds": "flush", "spacing": 0,
 "resolve": {"scale": {"color": "independent", "shape": "independent", "size": "independent", "strokeDash": "independent"}},
 "hconcat": [
  {"width": 1512, "height": 245,
   "layer": [
    {"data": {"name": "D_unf"}, "mark": {"type": "line", "color": "#7f7f7f", "strokeWidth": 3.5, "strokeDash": [3, 3], "interpolate": "monotone"},
     "encoding": {
      "x": {"field": "t", "type": "quantitative", "scale": {"domain": [20, 22.5], "nice": false, "zero": false}, "axis": {"values": [20,20.5,21,21.5,22,22.5], "title": "Time (s)", "labelExpr": "'' + datum.value"}},
      "y": {"field": "v", "type": "quantitative", "scale": {"domain": [-7.5, 20], "nice": false}, "axis": {"values": [-5,0,5,10,15,20], "title": "Acceleration\u00a0\u00a0\u00a0\u00a0\u00a0(g)", "labelExpr": "'' + datum.value"}}}},
    {"data": {"name": "D_tke"}, "mark": {"type": "line", "color": "#000000", "strokeWidth": 4, "interpolate": "monotone"},
     "encoding": {"x": {"field": "t", "type": "quantitative"}, "y": {"field": "v", "type": "quantitative"}}},
    {"data": {"name": "D_mk"}, "mark": {"type": "point", "filled": true, "fill": "#7f7f7f", "stroke": "#262626", "strokeWidth": 1, "opacity": 1, "shape": "circle", "size": 300},
     "encoding": {"x": {"field": "t", "type": "quantitative"}, "y": {"field": "v", "type": "quantitative"}}}
   ]},
  {"width": 305, "height": 245, "view": {"stroke": "#333333", "strokeWidth": 1.5},
   "data": {"name": "legD"},
   "layer": [
    {"transform": [{"filter": {"field": "label", "oneOf": ["Unfiltered Signal", "TKE Signal"]}}],
     "mark": {"type": "rule", "strokeWidth": 4},
     "encoding": {
      "y": {"field": "label", "type": "nominal", "scale": {"type": "point", "domain": ["Unfiltered Signal", "TKE Signal", "Finger Tap"], "padding": 0.58}, "axis": null},
      "x": {"datum": 0.115, "type": "quantitative", "scale": {"domain": [0, 1]}, "axis": null}, "x2": {"datum": 0.311},
      "color": {"field": "label", "type": "nominal", "scale": {"domain": ["Unfiltered Signal", "TKE Signal"], "range": ["#7f7f7f", "#000000"]}, "legend": null},
      "strokeDash": {"field": "label", "type": "nominal", "scale": {"domain": ["Unfiltered Signal", "TKE Signal"], "range": [[3, 3], [1, 0]]}, "legend": null}}},
    {"transform": [{"filter": {"field": "label", "equal": "Finger Tap"}}],
     "mark": {"type": "point", "filled": true, "fill": "#7f7f7f", "stroke": "#262626", "strokeWidth": 1, "opacity": 1, "shape": "circle", "size": 300},
     "encoding": {"y": {"field": "label", "type": "nominal"}, "x": {"datum": 0.216, "type": "quantitative"}}},
    {"mark": {"type": "text", "align": "left", "baseline": "middle", "font": "Liberation Serif", "fontSize": 21, "color": "#000000"},
     "encoding": {"y": {"field": "label", "type": "nominal"}, "x": {"datum": 0.338, "type": "quantitative"}, "text": {"field": "label"}}}
   ]}
 ]
}
]
}
